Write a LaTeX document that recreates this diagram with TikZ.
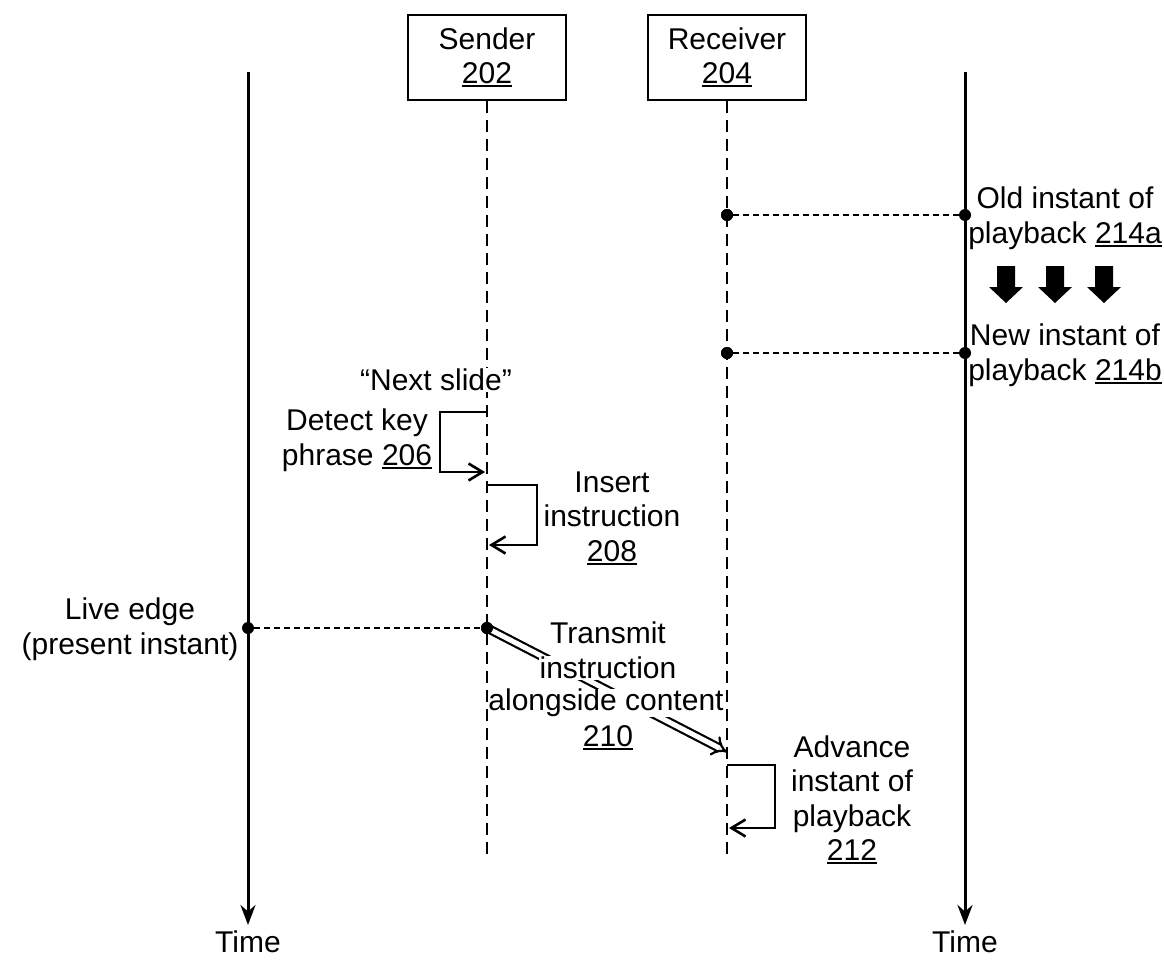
\documentclass[tikz,border=0pt]{standalone}
\usepackage{fontspec}
\setmainfont{Liberation Sans}
\usetikzlibrary{arrows.meta}
\newcommand\refnum[1]{\setbox0\hbox{#1}\rlap{\rule[-3.5pt]{\wd0}{2pt}}\box0}
\begin{document}
\begin{tikzpicture}[x=1pt,y=-1pt,
  txt/.style={font=\fontsize{30}{34.5}\selectfont, align=center, inner sep=0pt},
  box/.style={txt, draw, line width=1.8pt, minimum width=158pt, minimum height=85pt},
  life/.style={line width=2.6pt, dash pattern=on 12pt off 7pt},
  guide/.style={line width=1.4pt, dash pattern=on 6pt off 4pt},
  axis/.style={line width=3pt, -{Stealth[length=20pt,width=15pt]}},
  dot/.style={circle, fill, inner sep=0pt, minimum size=12pt},
  self/.style={line width=2.6pt, -{Straight Barb[length=14pt,width=17pt]}, shorten >=2pt},
  blank/.style={txt, fill=white, inner sep=1pt}
]
\useasboundingbox (0,0) rectangle (1164,960);

% time axes
\coordinate (lt) at (248,72);
\coordinate (lb) at (248,925);
\coordinate (rt) at (965,72);
\coordinate (rb) at (965,925);
\draw[axis] (lt) -- (lb);
\draw[axis] (rt) -- (rb);
\node[txt] (ltime) at (248,942) {Time};
\node[txt] (rtime) at (965,942) {Time};

% participants
\node[box] (sender) at (487,57.5) {Sender\\\refnum{202}};
\node[box] (receiver) at (727,57.5) {Receiver\\\refnum{204}};
\coordinate (send) at (487,855);
\coordinate (rend) at (727,855);

% playback instants
\node[dot] (o1) at (727,215) {};
\node[dot] (o2) at (965,215) {};
\draw[guide] (o1) -- (o2);
\node[txt] (old) at (1065,218) {Old instant of\\playback \refnum{214a}};
\node[dot] (n1) at (727,353) {};
\node[dot] (n2) at (965,353) {};
\draw[guide] (n1) -- (n2);
\node[txt] (new) at (1065,355) {New instant of\\playback \refnum{214b}};
\foreach \cx in {1006,1055,1104}{
  \fill (\cx,266) ++(-9,0) -- ++(18,0) -- ++(0,21) -- ++(8,0) -- ++(-17,16) -- ++(-17,-16) -- ++(8,0) -- cycle;
}

% detect key phrase
\coordinate (da) at (487,412);
\coordinate (db) at (487,472);
\draw[self] (da) -- ++(-47,0) |- (db);
\node[txt] (detect) at (357,440) {Detect key\\phrase \refnum{206}};

% insert instruction
\coordinate (ia) at (487,485);
\coordinate (ib) at (487,545);
\draw[self] (ia) -- ++(50,0) |- (ib);
\node[txt] (insert) at (612,518) {Insert\\instruction\\\refnum{208}};

% live edge
\node[dot] (le) at (248,628) {};
\node[dot] (se) at (487,628) {};
\draw[guide] (le) -- (se);
\node[txt] (live) at (130,629) {Live edge\\(present instant)};

% transmit
\coordinate (rin) at (727,752);
\draw[line width=2.2pt, double distance=5pt, -{Implies[scale=1.3]}] (se.center) -- (rin);
\node[blank] (t1) at (608,633) {Transmit};
\node[blank] (t2) at (608,668) {instruction};
\node[blank, inner sep=0pt] (t3) at (606,703) {alongside content};
\node[blank] (t4) at (608,738) {\refnum{210}};

% advance
\coordinate (aa) at (727,765);
\coordinate (ab) at (727,828);
\draw[self] (aa) -- ++(48,0) |- (ab);
\node[txt] (adv) at (852,800) {Advance\\instant of\\playback\\\refnum{212}};

% lifelines
\draw[life] (sender.south) -- (send);
\draw[life] (receiver.south) -- (rend);
\node[dot] at (o1) {};
\node[dot] at (n1) {};
\node[dot] at (se) {};

\node[blank] (next) at (436,380) {“Next slide”};
\end{tikzpicture}
\end{document}
